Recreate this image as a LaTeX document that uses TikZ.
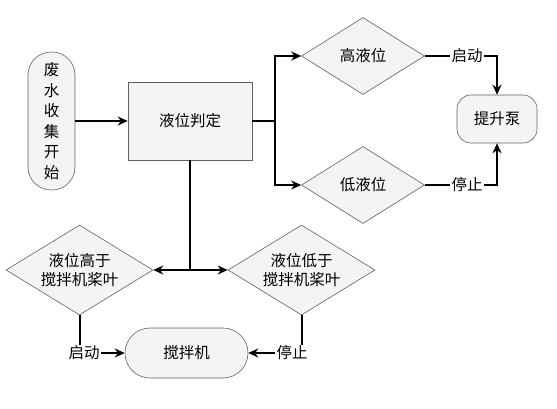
\documentclass[tikz,border=0pt]{standalone}
\usepackage{fontspec}
\newfontfamily\cjk{Noto Sans CJK SC}
\usetikzlibrary{shapes.geometric,arrows.meta}
\begin{document}
\begin{tikzpicture}[x=1pt,y=-1pt,
  box/.style={draw=gray!75!black, fill=gray!9, line width=0.6pt, inner sep=0pt},
  dia/.style={box, diamond},
  conn/.style={line width=2pt, black},
  arr/.style={conn, -{Stealth[length=10pt,width=9pt]}},
  txt/.style={font=\cjk\fontsize{15.5}{19}\selectfont, align=center},
  lab/.style={txt, fill=white, inner sep=1pt}]
\useasboundingbox (0,0) rectangle (557,408);
% nodes
\node[box, rounded corners=23pt, minimum width=47pt, minimum height=138pt,
      font=\cjk\fontsize{15.5}{20.5}\selectfont, align=center] (start) at (51.5,121)
      {废\\水\\收\\集\\开\\始};
\node[box, minimum width=124pt, minimum height=78pt, txt] (judge) at (190,121) {液位判定};
\node[dia, minimum width=123pt, minimum height=77pt, txt] (hd) at (363,56) {高液位};
\node[dia, minimum width=123pt, minimum height=77pt, txt] (lo) at (363,185) {低液位};
\node[box, rounded corners=14pt, minimum width=80pt, minimum height=48pt, txt] (pump) at (497,119) {提升泵};
\node[dia, minimum width=147pt, minimum height=90pt,
      label={[txt]center:液位高于\\搅拌机桨叶}] (ld) at (79.5,270) {};
\node[dia, minimum width=147pt, minimum height=90pt,
      label={[txt]center:液位低于\\搅拌机桨叶}] (rd) at (301.5,270) {};
\node[box, rounded corners=25pt, minimum width=123pt, minimum height=50pt, txt] (stir) at (186.5,353) {搅拌机};
% labels
\node[lab] (qd1) at (467,56) {启动};
\node[lab] (tz1) at (467,185) {停止};
\node[lab] (qd2) at (84,353) {启动};
\node[lab] (tz2) at (292,353) {停止};
% junctions
\coordinate (jr) at (275,121);
\coordinate (jb) at (190,270);
% connectors
\draw[arr] (start.east) -- (judge.west);
\draw[conn] (judge.east) -- (jr);
\draw[arr] (jr) |- (hd.west);
\draw[arr] (jr) |- (lo.west);
\draw[conn] (hd.east) -- (qd1.west);
\draw[arr] (qd1.east) -| (pump.north);
\draw[conn] (lo.east) -- (tz1.west);
\draw[arr] (tz1.east) -| (pump.south);
\draw[conn] (judge.south) -- (jb);
\draw[arr] (jb) -- (ld.east);
\draw[arr] (jb) -- (rd.west);
\draw[conn] (ld.south) -- (ld.south |- qd2.north);
\draw[arr] (qd2.east) -- (stir.west);
\draw[conn] (rd.south) -- (rd.south |- tz2.north);
\draw[arr] (tz2.west) -- (stir.east);
\end{tikzpicture}
\end{document}
